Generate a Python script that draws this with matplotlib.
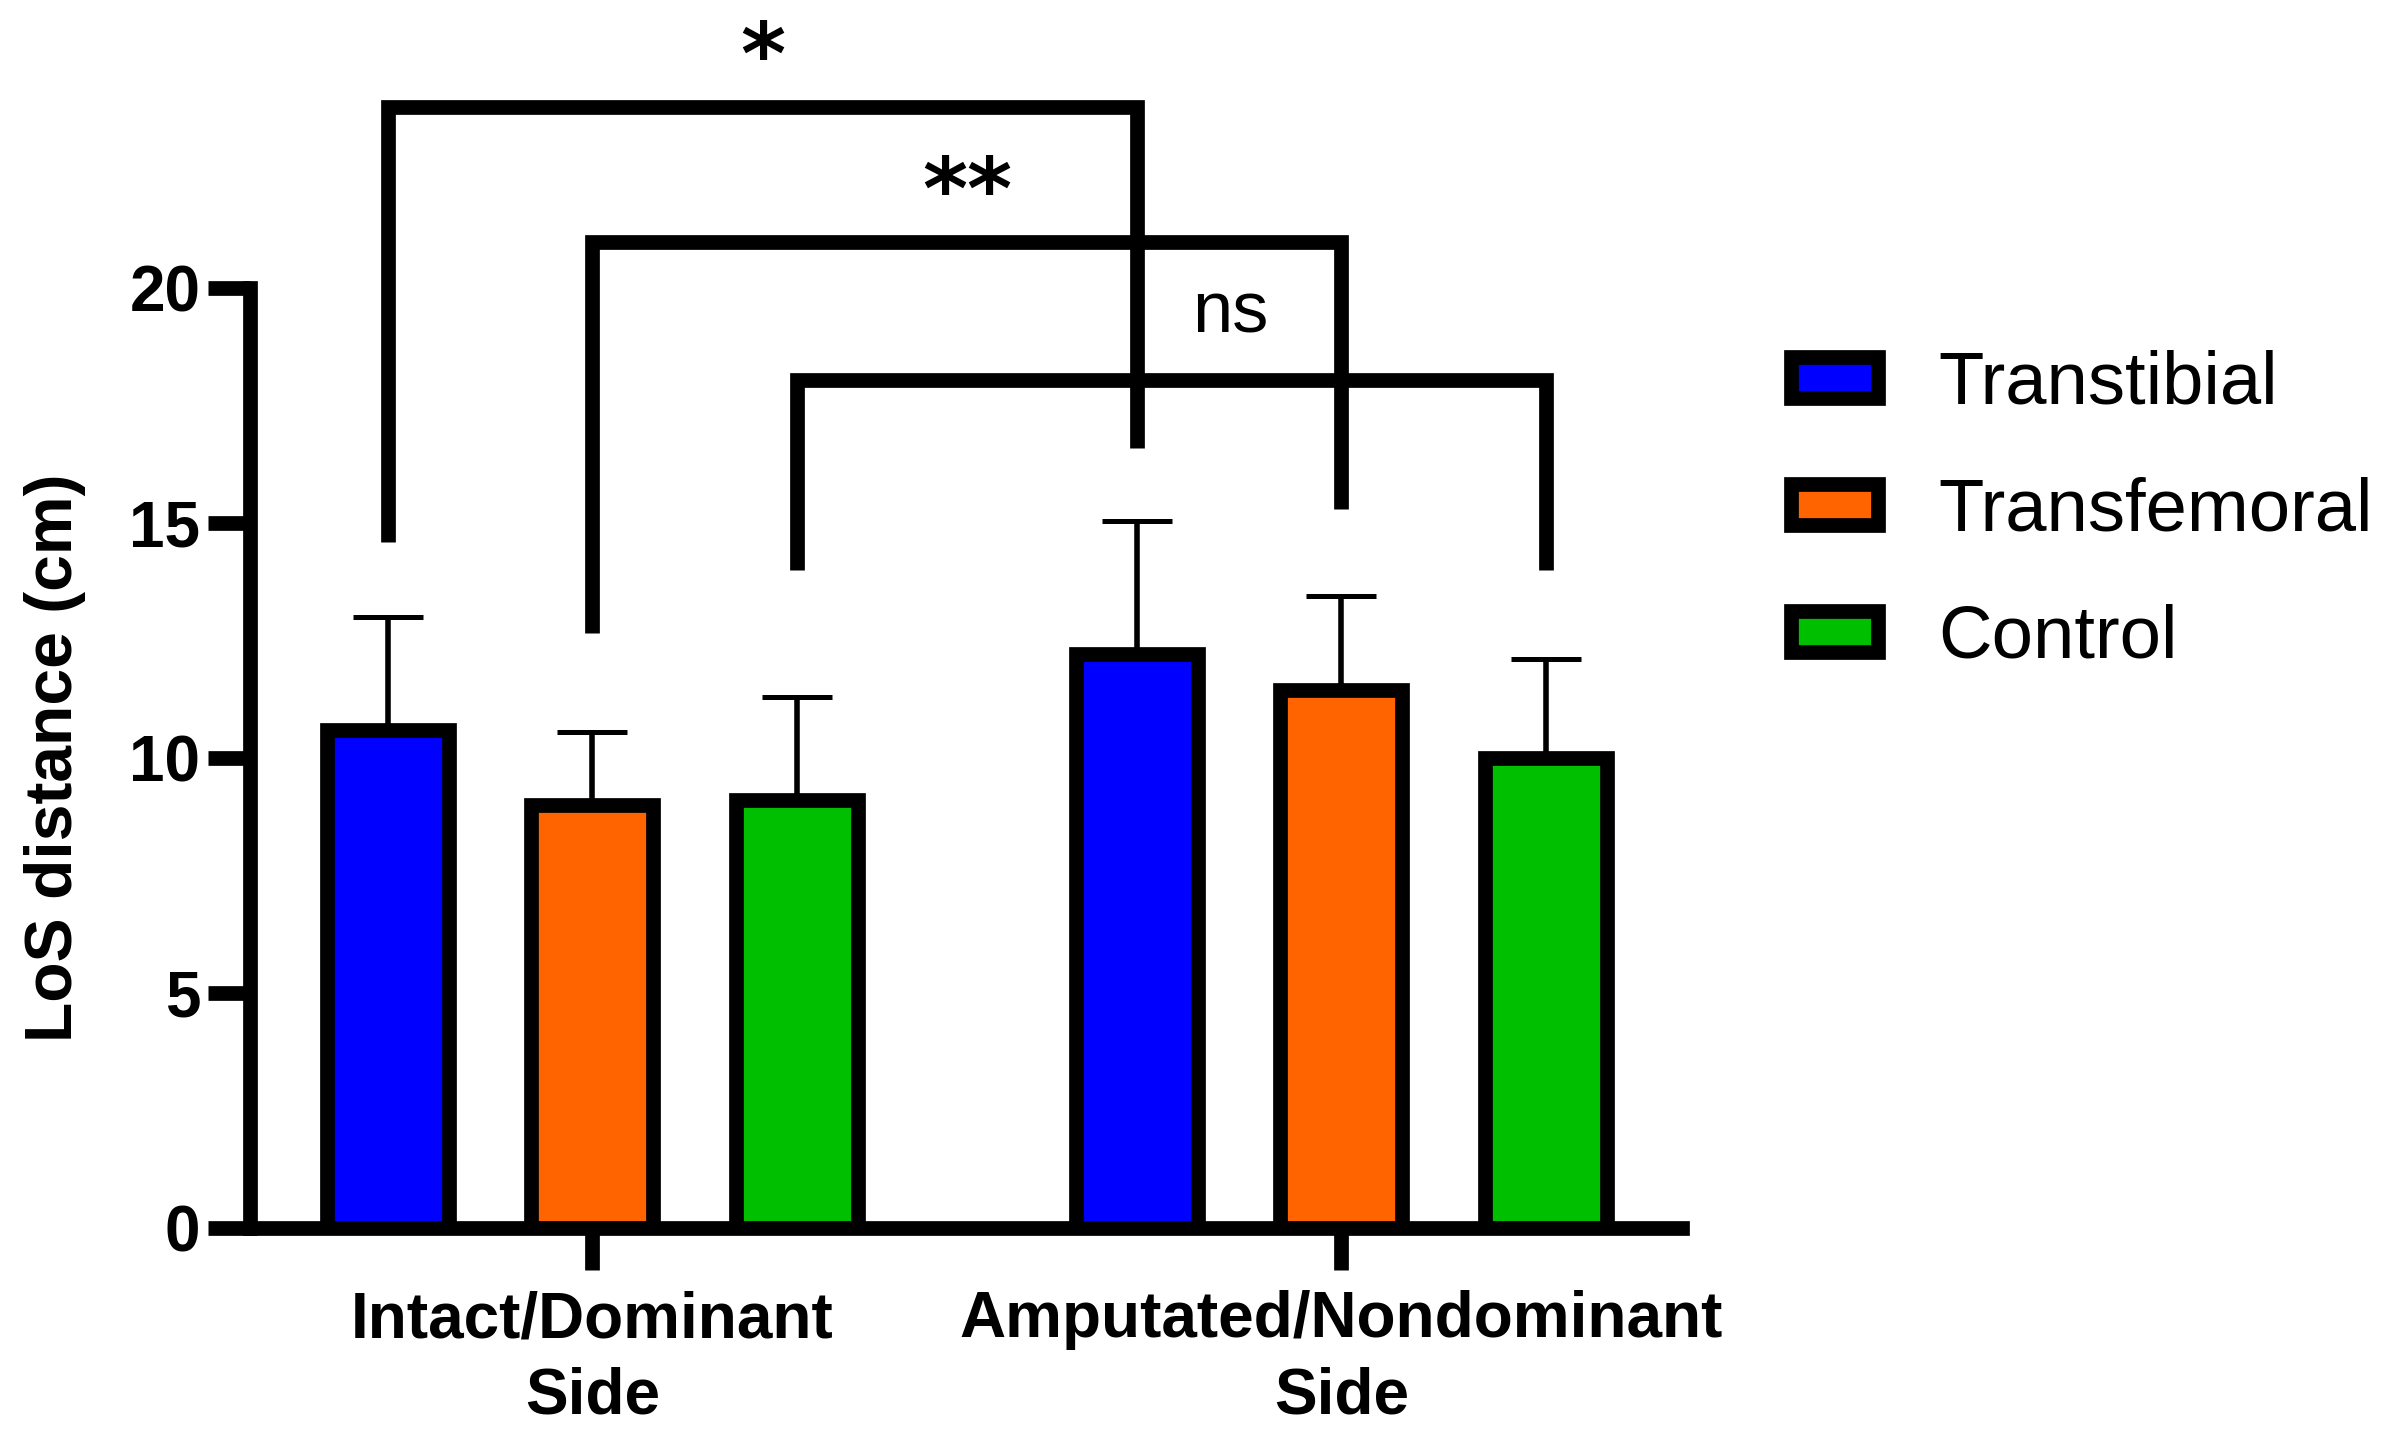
import matplotlib.pyplot as plt
import numpy as np

plt.rcParams['font.family'] = ['Liberation Sans', 'DejaVu Sans']

# Data
groups = ['Intact/Dominant\nSide', 'Amputated/Nondominant\nSide']
series = ['Transtibial', 'Transfemoral', 'Control']
colors = ['#0000FF', '#FF6400', '#00BF00']

transtibial = [10.6, 12.2]
transfemoral = [9.0, 11.45]
control = [9.1, 10.0]

transtibial_err = [2.4, 2.85]
transfemoral_err = [1.55, 2.0]
control_err = [2.2, 2.1]

# significance brackets: same series compared across the two sides
bracket_series = [0, 1, 2]
bracket_top = [23.85, 20.98, 18.04]
bracket_left_end = [14.6, 12.65, 14.0]
bracket_right_end = [16.6, 15.3, 14.0]
bracket_labels = ['*', '**', 'ns']

means = [transtibial, transfemoral, control]
errs = [transtibial_err, transfemoral_err, control_err]

fig = plt.figure(figsize=(23.99, 14.31), dpi=100)
ax = fig.add_axes([0.1044, 0.1422, 0.5967, 0.6565])

lw = 10.6
offset = 0.273
width = 0.1626
x = np.arange(len(groups))

for i in range(len(series)):
    pos = x + (i - 1) * offset
    ax.errorbar(pos, means[i], yerr=[np.zeros(len(groups)), errs[i]], fmt='none',
                ecolor='black', elinewidth=4, capsize=25, capthick=3.6, zorder=1)
    ax.bar(pos, means[i], width, color=colors[i], edgecolor='black', linewidth=lw,
           label=series[i], zorder=2)

# brackets
for k, s in enumerate(bracket_series):
    xl = x[0] + (s - 1) * offset
    xr = x[1] + (s - 1) * offset
    h = bracket_top[k]
    ax.plot([xl, xl, xr, xr], [bracket_left_end[k], h, h, bracket_right_end[k]],
            color='black', lw=lw, solid_joinstyle='miter', solid_capstyle='butt',
            clip_on=False, zorder=3)

ax.text((x[0] + x[1]) / 2 - offset, 24.85, bracket_labels[0], ha='center', va='center',
        fontsize=62, fontweight='bold', family='DejaVu Sans', clip_on=False)
ax.text((x[0] + x[1]) / 2, 21.98, bracket_labels[1], ha='center', va='center',
        fontsize=62, fontweight='bold', family='DejaVu Sans', clip_on=False)
ax.text(0.852, 19.05, bracket_labels[2], ha='center', va='baseline',
        fontsize=52, clip_on=False)

ax.set_xlim(-0.4565, 1.4547)
ax.set_ylim(0, 20)
ax.set_yticks([0, 5, 10, 15, 20])
ax.set_yticklabels(['0', '5', '10', '15', '20'], fontweight='bold')
ax.set_xticks(x)
ax.set_xticklabels(groups, fontweight='bold', linespacing=1.36)
ax.tick_params(axis='both', width=lw, length=30, labelsize=46)
ax.tick_params(axis='y', pad=6)
ax.tick_params(axis='x', pad=15)

for side in ['top', 'right']:
    ax.spines[side].set_visible(False)
for side in ['left', 'bottom']:
    ax.spines[side].set_linewidth(lw)

ax.set_ylabel('LoS distance (cm)', fontsize=47.5, fontweight='bold')
ax.yaxis.set_label_coords(-0.115, 0.5)

ax.legend(loc='upper left', bbox_to_anchor=(0.7467, 0.7555), bbox_transform=fig.transFigure,
          frameon=False, fontsize=53.5, handlelength=1.16, handleheight=0.48,
          handletextpad=0.82, labelspacing=0.78, borderpad=0, borderaxespad=0)

plt.savefig('out.png', dpi=100)
